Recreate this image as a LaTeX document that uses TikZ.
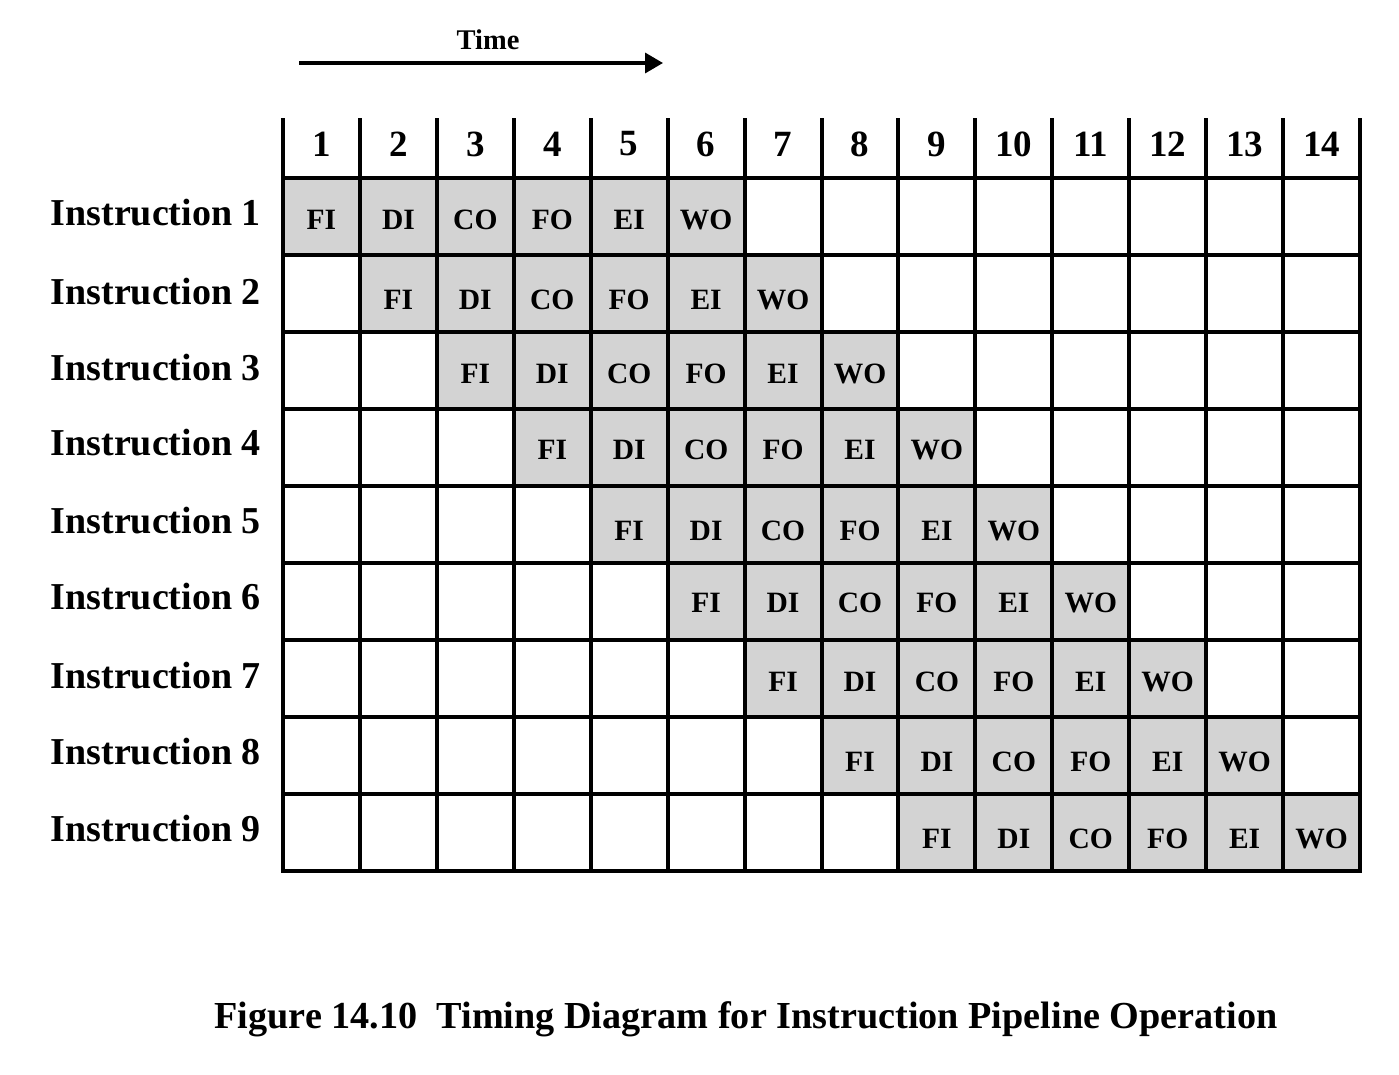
\documentclass[tikz,border=0pt]{standalone}
\usepackage{fontspec}
\setmainfont{Liberation Serif}
\usetikzlibrary{arrows.meta}
\definecolor{cellgray}{HTML}{D3D3D3}
\begin{document}
\begin{tikzpicture}[x=1pt,y=-1pt,
  gridline/.style={line width=4pt,line cap=rect},
  stagebox/.style={fill=cellgray,draw=none,minimum width=77pt,minimum height=77pt,inner sep=0pt,outer sep=0pt},
  stagetxt/.style={font=\bfseries\fontsize{29.5}{31}\selectfont,inner sep=0pt},
  numtxt/.style={font=\bfseries\fontsize{37}{40}\selectfont,inner sep=0pt},
  instrtxt/.style={font=\bfseries\fontsize{38}{40}\selectfont,inner sep=0pt,anchor=east},
  captxt/.style={font=\bfseries\fontsize{38.2}{40}\selectfont,inner sep=0pt},
  timearrow/.style={line width=3.5pt,-{Triangle[length=18pt,width=20pt]}}]
\useasboundingbox (0,0) rectangle (1399,1075);
\fill[white] (0,0) rectangle (1399,1075);
% time arrow
\node[font=\bfseries\fontsize{28.5}{30}\selectfont,inner sep=0pt] (time) at (488,40) {Time};
\coordinate (ts) at (299,63);
\coordinate (te) at (663,63);
\draw[timearrow] (ts) -- (te);
% gray cells with stage names
\def\ystage{{220,300,374,450,531,603,682,762,839}}
\foreach \r in {1,...,9}{
  \foreach \s [count=\k from 0] in {FI,DI,CO,FO,EI,WO}{
    \pgfmathsetmacro{\cx}{283+76.93*(\r+\k-0.5)}
    \pgfmathsetmacro{\cy}{178+77*(\r-0.5)}
    \pgfmathsetmacro{\ty}{\ystage[\r-1]}
    \node[stagebox] (cell-\r-\s) at (\cx,\cy) {};
    \node[stagetxt] (lab-\r-\s) at (\cx,\ty) {\s};
  }
}
% grid
\foreach \c in {0,...,14}{
  \pgfmathsetmacro{\gx}{283+76.93*\c}
  \draw[gridline] (\gx,120) -- (\gx,871);
}
\foreach \rr in {0,...,9}{
  \pgfmathsetmacro{\gy}{178+77*\rr}
  \draw[gridline] (283,\gy) -- (1360,\gy);
}
% header numbers
\foreach \c in {1,...,14}{
  \pgfmathsetmacro{\cx}{283+76.93*(\c-0.5)}
  \node[numtxt] (num-\c) at (\cx,144) {\c};
}
% instruction labels
\foreach \r/\yy in {1/213,2/292,3/368,4/443,5/521,6/597,7/676,8/752,9/829}{
  \node[instrtxt] (instr-\r) at (261,\yy) {Instruction \r};
}
% caption
\node[captxt] (caption) at (746,1019) {Figure 14.10\ \ Timing Diagram for Instruction Pipeline Operation};
\end{tikzpicture}
\end{document}
